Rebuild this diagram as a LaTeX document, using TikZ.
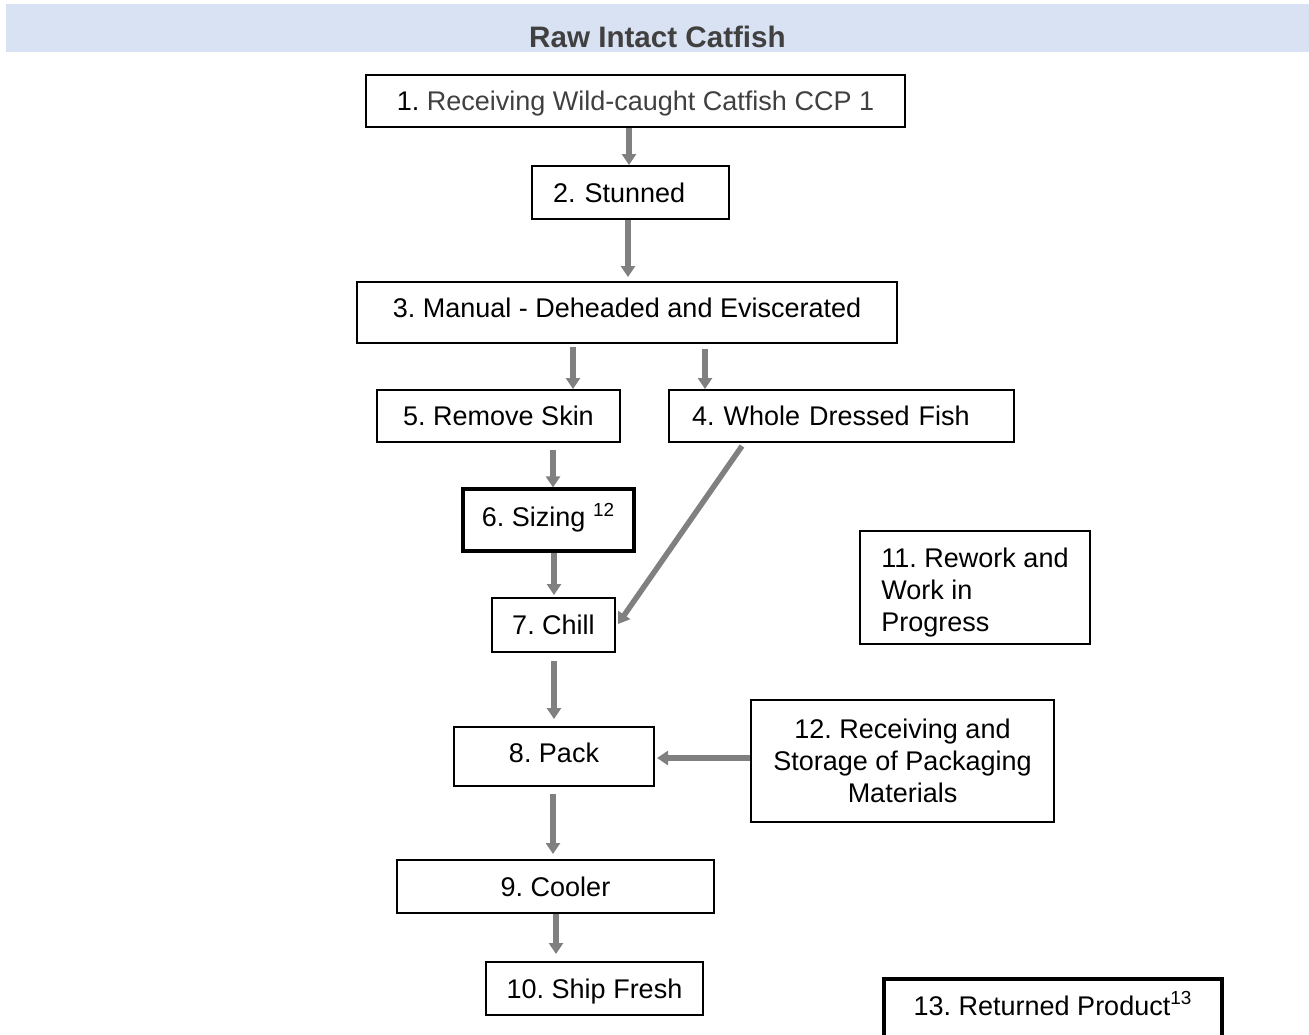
\documentclass[tikz,border=0pt]{standalone}
\usepackage{fontspec}
\setmainfont{Liberation Sans}
\usetikzlibrary{arrows.meta}
\definecolor{bandblue}{HTML}{D9E2F3}
\definecolor{titlegray}{HTML}{404040}
\definecolor{flowgray}{HTML}{808080}
\frenchspacing

\begin{document}
\begin{tikzpicture}[x=0.5pt,y=-0.5pt,
   base/.style={draw,line width=1pt,inner sep=0pt,font=\fontsize{13.5}{16}\selectfont},
   box/.style={base,text height=11pt,text depth=1.3pt},
   thickbox/.style={box,line width=1.6pt},
   tallbox/.style={base,align=center},
   flow/.style={draw=flowgray,line width=2.75pt,-{Triangle[width=7pt,length=5.5pt]}}]
\useasboundingbox (0,0) rectangle (1309,1034);
\node[fill=bandblue,minimum width=651.5pt,minimum height=24pt,inner sep=0pt] (band) at (657.5,28) {};
\node[text=titlegray,font=\fontsize{14.8}{17}\selectfont\bfseries,inner sep=0pt] (title) at (657.5,37) {Raw Intact Catfish};
% main line
\node[box,minimum width=269.5pt,minimum height=26pt] (n1) at (635.5,101)
   {1. \textcolor{titlegray}{Receiving Wild-caught Catfish CCP 1}};
\node[box,minimum width=98.5pt,minimum height=26.5pt,text width=77.5pt,align=left] (n2) at (630.5,192.5) {2. Stunned};
\node[box,text depth=5.8pt,minimum width=270pt,minimum height=30.5pt] (n3) at (627,312.5) {3. Manual - Deheaded and Eviscerated};
\node[box,minimum width=121.5pt,minimum height=26pt] (n5) at (498.5,416) {5. Remove Skin};
\node[box,minimum width=172.5pt,minimum height=26pt,text width=149.5pt,align=left] (n4) at (841.5,416) {4. Whole Dressed Fish};
\node[thickbox,text depth=4.3pt,minimum width=85.5pt,minimum height=31pt] (n6) at (548.5,520) {6. Sizing \textsuperscript{12}};
\node[box,minimum width=61.5pt,minimum height=27pt] (n7) at (553.5,625) {7. Chill};
\node[box,text depth=4.8pt,minimum width=100pt,minimum height=29.5pt] (n8) at (554,756.5) {8. Pack};
\node[box,minimum width=158.5pt,minimum height=26.5pt] (n9) at (555.5,886.5) {9. Cooler};
\node[box,minimum width=108.5pt,minimum height=26.5pt] (n10) at (594.5,988.5) {10. Ship Fresh};
% side boxes
\node[tallbox,align=left,minimum width=115pt,minimum height=56.5pt] (n11) at (975,587.5)
   {\rule{0pt}{15pt}11. Rework and\\Work in\\Progress};
\node[tallbox,minimum width=151.5pt,minimum height=61pt] (n12) at (902.5,761)
   {12. Receiving and\\Storage of Packaging\\Materials};
\node[thickbox,text depth=5pt,minimum width=169pt,minimum height=30pt] (n13) at (1053,1009) {13. Returned Product\textsuperscript{13}};
% arrows
\draw[flow] ([xshift=-3.25pt]n1.south) -- ([xshift=-0.75pt]n2.north);
\draw[flow] ([xshift=-1.25pt]n2.south) -- ([xshift=0.5pt,yshift=2pt]n3.north);
\draw[flow] ([xshift=-27pt,yshift=-1.5pt]n3.south) -- ([xshift=37.25pt]n5.north);
\draw[flow] ([xshift=39pt,yshift=-2.5pt]n3.south) -- ([xshift=-68.25pt]n4.north);
\draw[flow] ([xshift=27.25pt,yshift=-3.5pt]n5.south) -- ([xshift=2.25pt]n6.north);
\draw[flow] ([xshift=-49.75pt,yshift=-1.5pt]n4.south) -- ([xshift=1pt,yshift=0.5pt]n7.east);
\draw[flow] ([xshift=2.75pt]n6.south) -- ([xshift=0.25pt,yshift=1pt]n7.north);
\draw[flow] ([xshift=0.25pt,yshift=-4pt]n7.south) -- ([yshift=3.5pt]n8.north);
\draw[flow] ([yshift=1.5pt]n12.west) -- ([xshift=1pt,yshift=-0.75pt]n8.east);
\draw[flow] ([xshift=-0.5pt,yshift=-3.5pt]n8.south) -- ([xshift=-1.25pt,yshift=2.5pt]n9.north);
\draw[flow] ([xshift=0.25pt]n9.south) -- ([xshift=-19.25pt,yshift=3.5pt]n10.north);
\end{tikzpicture}
\end{document}
